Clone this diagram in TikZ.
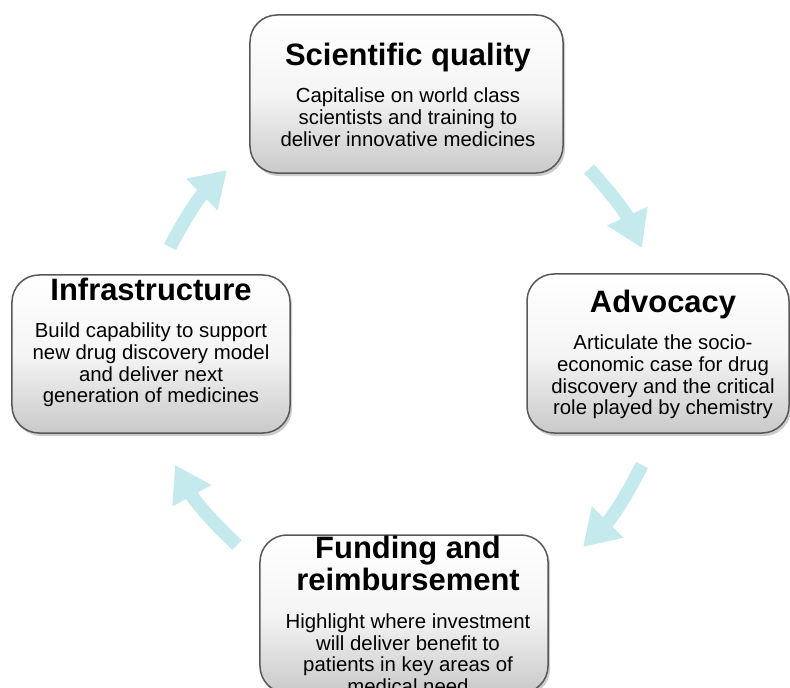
\documentclass[tikz,border=0pt]{standalone}
\usepackage{fontspec}
\setmainfont{Liberation Sans}
\usepackage{tikz}
\usetikzlibrary{positioning, shadows, arrows.meta}
\definecolor{flowcyan}{RGB}{196,234,238}
\definecolor{cardedge}{RGB}{88,88,88}
\tikzset{>=latex}
\tikzset{card/.style={draw=cardedge, line width=0.3mm, rounded corners=5.4mm,
    top color=white, bottom color=black!21, middle color=black!4,
    drop shadow={shadow xshift=0.4mm, shadow yshift=-0.6mm, opacity=0.4}},
  blurb/.style={align=center, inner sep=0pt, font=\fontsize{11.6}{12.4}\selectfont},
  flow/.style={flowcyan, line width=7.6pt, -{Triangle[length=20pt,width=24pt]}}}
\newcommand{\heading}[1]{{\fontsize{17.6}{17}\selectfont\bfseries #1}}

\begin{document}
\begin{tikzpicture}[x=0.2mm, y=-0.2mm]
\useasboundingbox (0,0) rectangle (790,688);
\clip (0,0) rectangle (790,688);

% the four boxes
\node[card, minimum width=62.6mm, minimum height=31.6mm] (sci) at (406.5,94) {};
\node[card, minimum width=55.6mm, minimum height=31.6mm] (infra) at (151,354) {};
\node[card, minimum width=52.4mm, minimum height=31.8mm] (adv) at (658,353.5) {};
\node[card, minimum width=57.6mm, minimum height=31.6mm] (fund) at (404,614) {};

\node[blurb, below=5.6mm of sci.north, xshift=0.3mm] (sciText) {\heading{Scientific quality}\\[8.95pt]
  Capitalise on world class\\ scientists and training to\\ deliver innovative medicines};
\node[blurb, below=0.6mm of infra.north] (infraText) {\heading{Infrastructure}\\[8.95pt]
  Build capability to support\\ new drug discovery model\\ and deliver next\\ generation of medicines};
\node[blurb, below=3.2mm of adv.north, xshift=1mm] (advText) {\heading{Advocacy}\\[8.95pt]
  Articulate the socio-\\ economic case for drug\\ discovery and the critical\\ role played by chemistry};
\node[blurb, below=0.2mm of fund.north, xshift=0.8mm] (fundText) {\heading{Funding and}\\[1.2pt]
  \heading{reimbursement}\\[8.95pt]
  Highlight where investment\\ will deliver benefit to\\ patients in key areas of\\ medical need};

% arrows round the cycle
\coordinate (sciOut) at (589,169);
\coordinate (advIn) at (642,248);
\coordinate (advOut) at (642,465);
\coordinate (fundIn) at (583,547);
\coordinate (fundOut) at (237,545);
\coordinate (infraIn) at (175,465);
\coordinate (infraOut) at (170,247);
\coordinate (sciIn) at (227,170);
\draw[flow] (sciOut) to[bend left=9] (advIn);
\draw[flow] (advOut) to[bend left=9] (fundIn);
\draw[flow] (fundOut) to[bend left=9] (infraIn);
\draw[flow] (infraOut) to[bend left=9] (sciIn);
\end{tikzpicture}
\end{document}
